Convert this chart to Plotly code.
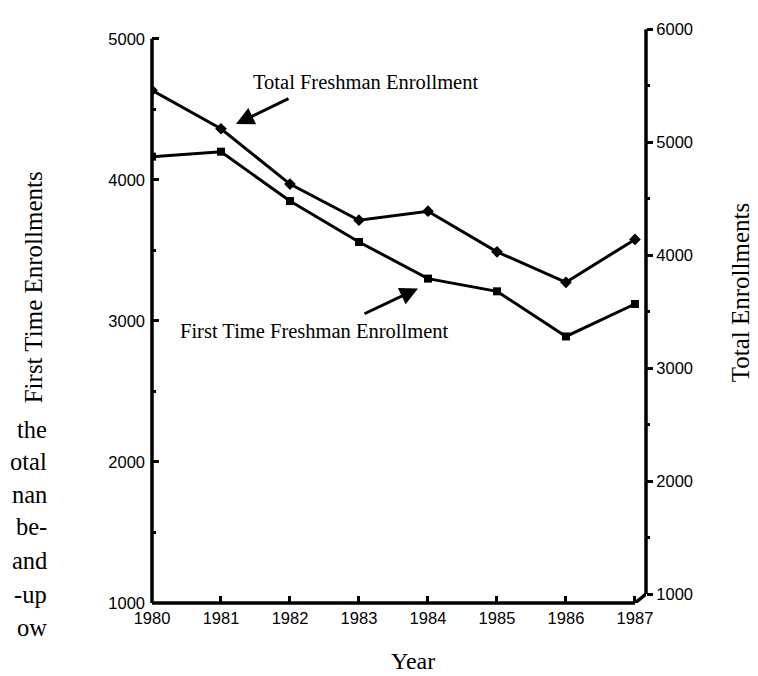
import plotly.graph_objects as go

years = [1980, 1981, 1982, 1983, 1984, 1985, 1986, 1987]
total_freshman = [5460, 5120, 4630, 4310, 4390, 4030, 3760, 4140]
first_time_freshman = [4165, 4200, 3850, 3560, 3300, 3210, 2890, 3120]

left_ticks = [1000, 2000, 3000, 4000, 5000]
right_ticks = [1000, 2000, 3000, 4000, 5000, 6000]
body_fragments = ["the", "otal", "nan", "be-", "and", "-up", "ow"]

SERIF = "Liberation Serif"
SANS = "Liberation Sans"

X_MAX = 1987.16
Y2_MIN = 921

fig = go.Figure()
fig.add_trace(go.Scatter(
    x=years, y=first_time_freshman, mode="lines+markers", yaxis="y",
    line=dict(color="black", width=3),
    marker=dict(symbol="square", size=8, color="black"),
    name="First Time Freshman Enrollment"))
fig.add_trace(go.Scatter(
    x=years, y=total_freshman, mode="lines+markers", yaxis="y2",
    line=dict(color="black", width=3),
    marker=dict(symbol="diamond", size=9, color="black"),
    name="Total Freshman Enrollment"))

fig.update_layout(
    width=758, height=676,
    margin=dict(l=144, r=120, t=15, b=81),
    paper_bgcolor="white", plot_bgcolor="white",
    showlegend=False,
    font=dict(family=SANS, color="black", size=16),
    xaxis=dict(
        range=[1980, X_MAX], tickvals=years, ticktext=[str(y) for y in years],
        showline=False,
        ticks="inside", ticklen=7, tickwidth=3, tickcolor="black",
        ticklabelstandoff=3,
        showgrid=False, zeroline=False,
        tickfont=dict(family=SANS, size=16.5)),
    yaxis=dict(
        range=[1000, 5070], tickvals=left_ticks,
        showline=False,
        ticks="inside", ticklen=7, tickwidth=3, tickcolor="black",
        ticklabelstandoff=6,
        minor=dict(dtick=500, tick0=1000, ticks="inside", ticklen=4, tickwidth=3, tickcolor="black"),
        showgrid=False, zeroline=False,
        tickfont=dict(family=SANS, size=16.5)),
    yaxis2=dict(
        range=[Y2_MIN, 6003], tickvals=right_ticks, overlaying="y", side="right",
        showline=False,
        ticks="outside", ticklen=6, tickwidth=3, tickcolor="black",
        minor=dict(dtick=500, tick0=1000, ticks="outside", ticklen=3, tickwidth=3, tickcolor="black"),
        showgrid=False, zeroline=False,
        tickfont=dict(family=SANS, size=16.5)),
)

line_style = dict(color="black", width=3.5)
shapes = [
    dict(type="line", xref="paper", yref="y", x0=0, x1=0,
         y0=left_ticks[0], y1=left_ticks[-1], line=line_style),
    dict(type="line", xref="x", yref="paper", x0=years[0], x1=years[-1],
         y0=0, y1=0, line=line_style),
    dict(type="line", xref="paper", yref="y2", x0=1, x1=1,
         y0=right_ticks[0], y1=right_ticks[-1], line=line_style),
    dict(type="line", xref="x", yref="y2", x0=years[-1], x1=X_MAX,
         y0=Y2_MIN, y1=right_ticks[0], line=line_style),
]
fig.update_layout(shapes=shapes)

ann = []
ann.append(dict(text="First Time Enrollments", x=-0.2409, y=0.55, xref="paper", yref="paper",
                textangle=-90, showarrow=False, font=dict(family=SERIF, size=25),
                xanchor="center", yanchor="middle"))
ann.append(dict(text="Total Enrollments", x=1.192, y=0.541, xref="paper", yref="paper",
                textangle=-90, showarrow=False, font=dict(family=SERIF, size=25),
                xanchor="center", yanchor="middle"))
ann.append(dict(text="Year", x=0.528, y=-0.127, xref="paper", yref="paper",
                showarrow=False, font=dict(family=SERIF, size=24),
                xanchor="center", yanchor="bottom"))
ann.append(dict(text="Total Freshman Enrollment", x=0.2004, y=0.907, xref="paper", yref="paper",
                showarrow=False, font=dict(family=SERIF, size=20.5),
                xanchor="left", yanchor="middle"))
ann.append(dict(text="", x=0.170, y=0.8345, xref="paper", yref="paper",
                showarrow=True, ax=54, ay=-26, arrowhead=2, arrowsize=1.2, arrowwidth=3,
                arrowcolor="black"))
ann.append(dict(text="First Time Freshman Enrollment", x=0.0526, y=0.474, xref="paper", yref="paper",
                showarrow=False, font=dict(family=SERIF, size=20.5),
                xanchor="left", yanchor="middle"))
ann.append(dict(text="", x=0.5385, y=0.548, xref="paper", yref="paper",
                showarrow=True, ax=-55, ay=26, arrowhead=2, arrowsize=1.2, arrowwidth=3,
                arrowcolor="black"))

frag_y = [0.3017, 0.2466, 0.1897, 0.1328, 0.0741, 0.0155, -0.0431]
for t, yy in zip(body_fragments, frag_y):
    ann.append(dict(text=t, x=-0.2085, y=yy, xref="paper", yref="paper",
                    showarrow=False, font=dict(family=SERIF, size=24.5),
                    xanchor="right", yanchor="middle"))

fig.update_layout(annotations=ann)
fig.write_html("out.html")
